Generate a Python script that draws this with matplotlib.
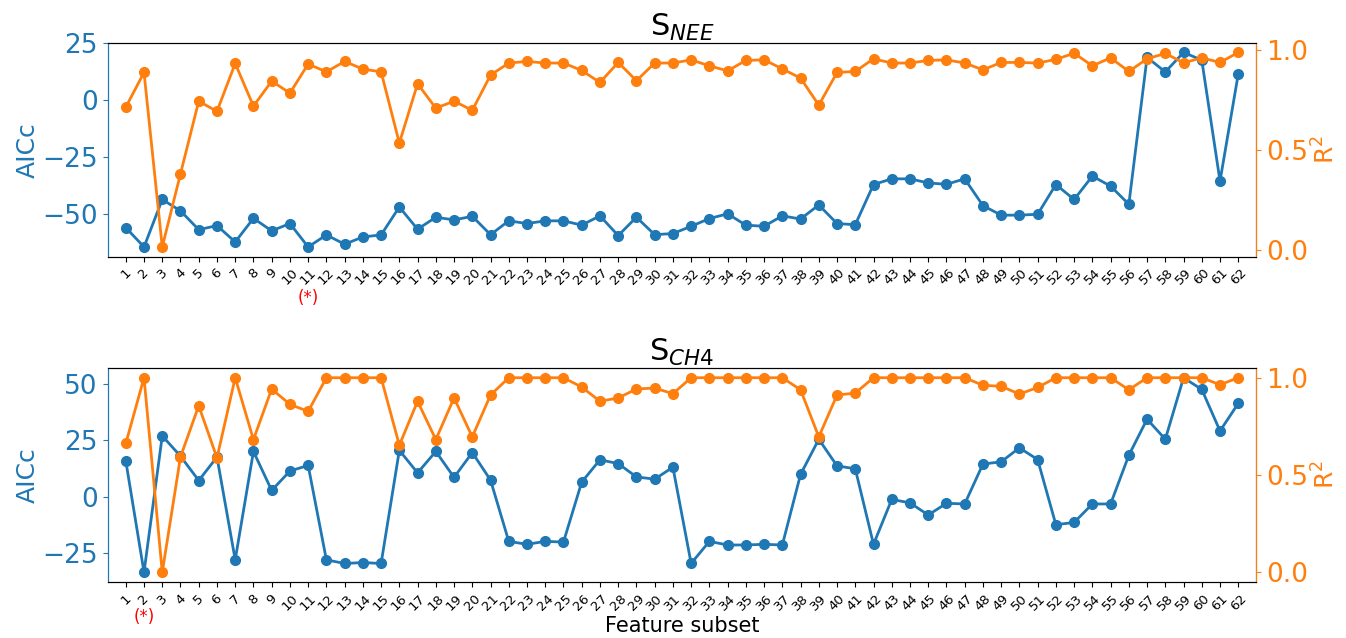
import matplotlib
matplotlib.use("Agg")
import matplotlib.pyplot as plt
import matplotlib.transforms as mtransforms

subsets = list(range(1, 63))

# S_NEE results
aicc_nee = [-56.2, -64.7, -43.8, -48.8, -57.1, -55.3, -62.5, -52.1, -57.6, -54.4,
            -64.7, -59.4, -63.5, -60.3, -59.4, -47.1, -56.9, -51.6, -52.8, -51.2,
            -59.3, -53.2, -54.4, -53.2, -53.2, -55.1, -51.0, -59.7, -51.6, -59.3,
            -58.8, -55.6, -52.2, -50.1, -55.1, -55.6, -51.0, -52.4, -46.2, -54.4,
            -54.9, -37.2, -34.7, -34.7, -36.5, -37.1, -34.7, -46.5, -50.7, -50.7,
            -50.3, -37.2, -43.8, -33.5, -37.9, -45.9, 18.8, 12.4, 21.0, 17.6,
            -35.7, 11.5]
r2_nee = [0.714, 0.887, 0.017, 0.382, 0.744, 0.693, 0.932, 0.719, 0.844, 0.784,
          0.929, 0.890, 0.942, 0.904, 0.890, 0.535, 0.831, 0.709, 0.744, 0.698,
          0.874, 0.934, 0.942, 0.934, 0.934, 0.897, 0.837, 0.937, 0.846, 0.934,
          0.934, 0.950, 0.920, 0.895, 0.947, 0.950, 0.905, 0.859, 0.724, 0.887,
          0.892, 0.955, 0.934, 0.934, 0.947, 0.950, 0.934, 0.900, 0.937, 0.937,
          0.934, 0.952, 0.983, 0.920, 0.960, 0.892, 0.955, 0.982, 0.935, 0.960,
          0.937, 0.987]

# S_CH4 results
aicc_ch4 = [15.9, -33.5, 27.0, 18.0, 7.2, 17.6, -28.0, 20.1, 2.8, 11.4,
            13.9, -28.0, -29.6, -29.2, -29.6, 20.6, 10.6, 20.1, 8.6, 19.6,
            7.4, -19.8, -21.1, -19.8, -20.1, 6.5, 16.4, 14.7, 8.8, 7.8,
            13.1, -29.6, -19.8, -21.4, -21.4, -21.1, -21.4, 9.9, 25.5, 13.7,
            12.4, -21.1, -1.2, -2.7, -8.1, -2.9, -3.2, 14.5, 15.5, 21.7,
            16.5, -12.4, -11.4, -3.2, -3.2, 18.4, 34.4, 25.5, 52.8, 47.6,
            29.2, 41.4]
r2_ch4 = [0.662, 1.0, 0.0, 0.593, 0.856, 0.588, 1.0, 0.682, 0.942, 0.863,
          0.827, 1.0, 1.0, 1.0, 1.0, 0.653, 0.879, 0.682, 0.896, 0.696,
          0.911, 1.0, 1.0, 1.0, 1.0, 0.952, 0.879, 0.896, 0.942, 0.947,
          0.918, 1.0, 1.0, 1.0, 1.0, 1.0, 1.0, 0.938, 0.696, 0.911,
          0.921, 1.0, 1.0, 1.0, 1.0, 1.0, 1.0, 0.961, 0.956, 0.916,
          0.950, 1.0, 1.0, 1.0, 1.0, 0.938, 1.0, 1.0, 1.0, 1.0,
          0.964, 1.0]

panels = [
    (r'S$_{NEE}$', aicc_nee, r2_nee, [-50, -25, 0, 25], 11, -0.195),
    (r'S$_{CH4}$', aicc_ch4, r2_ch4, [-25, 0, 25, 50], 2, -0.165),
]

blue = '#1f77b4'
orange = '#ff7f0e'

fig = plt.figure(figsize=(13.46, 6.38), dpi=100)
rects = [[0.0799, 0.5977, 0.8536, 0.3354], [0.0799, 0.0878, 0.8536, 0.3354]]

for rect, (title, aicc, r2, yticks, best, star_y) in zip(rects, panels):
    ax = fig.add_axes(rect)
    ax.plot(subsets, aicc, '-o', color=blue, lw=2, ms=7)
    ax.set_xlim(0, 63)
    ax.set_xticks(subsets)
    ax.set_xticklabels([str(s) for s in subsets], rotation=45, fontsize=9.5)
    ax.set_yticks(yticks)
    ax.tick_params(axis='y', colors=blue, labelsize=19)
    ax.set_ylabel('AICc', color=blue, fontsize=18, labelpad=2)
    ax.spines['left'].set_color(blue)
    ax.set_title(title, fontsize=22, pad=2)

    ax2 = ax.twinx()
    ax2.plot(subsets, r2, '-o', color=orange, lw=2, ms=7)
    ax2.set_yticks([0.0, 0.5, 1.0])
    ax2.tick_params(axis='y', colors=orange, labelsize=19)
    ax2.set_ylabel(r'R$^2$', color=orange, fontsize=18, labelpad=3)
    ax2.spines['right'].set_color(orange)
    ax2.spines['left'].set_color(blue)

    # mark the selected subset under its tick label
    trans = mtransforms.blended_transform_factory(ax.transData, ax.transAxes)
    ax.text(best, star_y, '(*)', color='red', fontsize=12, ha='center',
            va='center', transform=trans)

ax.set_xlabel('Feature subset', fontsize=15, labelpad=2)

fig.savefig('out.png', dpi=100)
